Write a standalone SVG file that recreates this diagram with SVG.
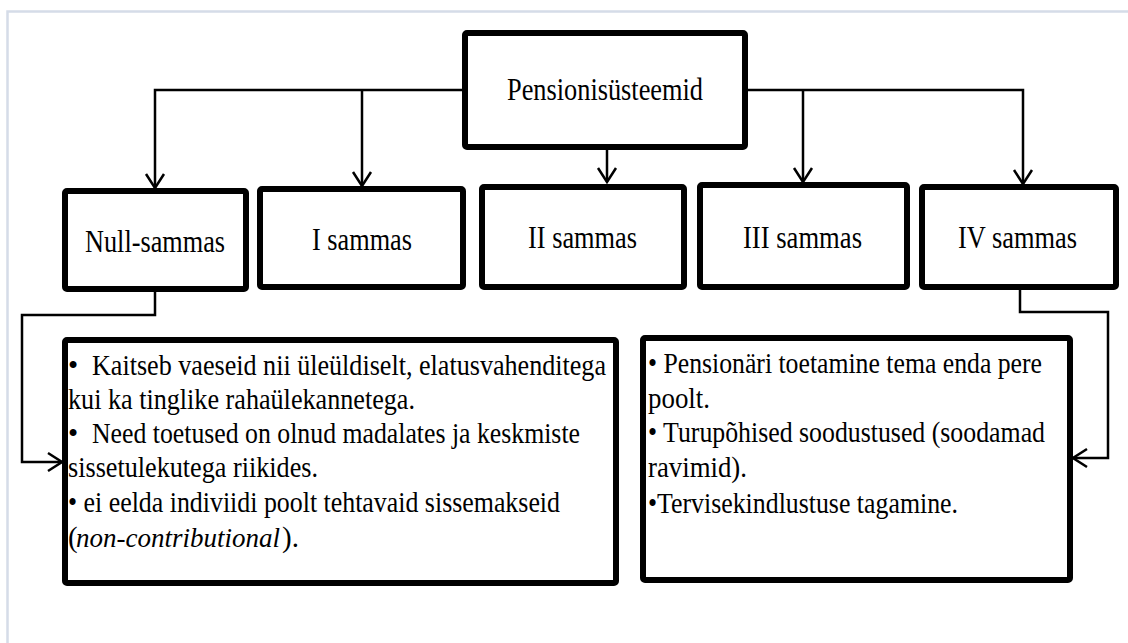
<svg xmlns="http://www.w3.org/2000/svg" width="1128" height="643" viewBox="0 0 1128 643">
<style>
.box{fill:#fff;stroke:#000;stroke-width:6;stroke-linejoin:round}
.conn{fill:none;stroke:#000;stroke-width:2.5}
text{font-family:Liberation Serif,Times New Roman,serif;fill:#000}
.lbl{font-size:31px}
.body{font-size:29px}
.it{font-style:italic;font-size:27px}
</style>
<defs>
<marker id="arr" viewBox="-16 -11 18 22" refX="0" refY="0" markerWidth="18" markerHeight="22" markerUnits="userSpaceOnUse" orient="auto">
<path d="M-14,-9 L0,0 L-14,9" fill="none" stroke="#000" stroke-width="2.5"/>
</marker>
</defs>
<rect width="1128" height="643" fill="#fff"/>
<path d="M7.5,643 V11.5 H1128" fill="none" stroke="#d5dce8" stroke-width="2.5"/>

<g id="connectors">
<path class="conn" d="M462,90 H155 V188" marker-end="url(#arr)"/>
<path class="conn" d="M362,90 V186" marker-end="url(#arr)"/>
<path class="conn" d="M748,90 H1023 V184" marker-end="url(#arr)"/>
<path class="conn" d="M803,90 V182" marker-end="url(#arr)"/>
<path class="conn" d="M607,150 V182" marker-end="url(#arr)"/>
<path class="conn" d="M155,292 V315 H22 V462 H62" marker-end="url(#arr)"/>
<path class="conn" d="M1020,290 V312 H1108 V458 H1073" marker-end="url(#arr)"/>
</g>

<g id="pensionisusteemid" font-family="Liberation Serif, serif">
<rect class="box" x="465" y="33" width="280" height="114" rx="2"/>
<text class="lbl" x="507" y="100" textLength="196" lengthAdjust="spacingAndGlyphs">Pensionisüsteemid</text>
</g>
<g id="null-sammas" font-family="Liberation Serif, serif">
<rect class="box" x="65" y="191" width="181" height="98" rx="2"/>
<text class="lbl" x="85" y="252" textLength="140" lengthAdjust="spacingAndGlyphs">Null-sammas</text>
</g>
<g id="i-sammas" font-family="Liberation Serif, serif">
<rect class="box" x="260" y="189" width="203" height="98" rx="2"/>
<text class="lbl" x="312" y="250" textLength="100" lengthAdjust="spacingAndGlyphs">I sammas</text>
</g>
<g id="ii-sammas" font-family="Liberation Serif, serif">
<rect class="box" x="482" y="187" width="202" height="100" rx="2"/>
<text class="lbl" x="528" y="248" textLength="109" lengthAdjust="spacingAndGlyphs">II sammas</text>
</g>
<g id="iii-sammas" font-family="Liberation Serif, serif">
<rect class="box" x="700" y="185" width="207" height="102" rx="2"/>
<text class="lbl" x="743" y="248" textLength="119" lengthAdjust="spacingAndGlyphs">III sammas</text>
</g>
<g id="iv-sammas" font-family="Liberation Serif, serif">
<rect class="box" x="922" y="187" width="194" height="100" rx="2"/>
<text class="lbl" x="958" y="248" textLength="119" lengthAdjust="spacingAndGlyphs">IV sammas</text>
</g>

<g id="null-kirjeldus" font-family="Liberation Serif, serif">
<rect class="box" x="65" y="340" width="551" height="243" rx="2"/>
<text class="body" x="68" y="375">•</text>
<text class="body" x="92" y="375" textLength="514" lengthAdjust="spacingAndGlyphs">Kaitseb vaeseid  nii üleüldiselt, elatusvahenditega</text>
<text class="body" x="68" y="409" textLength="347" lengthAdjust="spacingAndGlyphs">kui ka tinglike rahaülekannetega.</text>
<text class="body" x="68" y="443">•</text>
<text class="body" x="92" y="443" textLength="488" lengthAdjust="spacingAndGlyphs">Need toetused on olnud madalates ja keskmiste</text>
<text class="body" x="68" y="477" textLength="250" lengthAdjust="spacingAndGlyphs">sissetulekutega riikides.</text>
<text class="body" x="68" y="512" textLength="492" lengthAdjust="spacingAndGlyphs">• ei eelda indiviidi poolt tehtavaid sissemakseid</text>
<text class="body" x="68" y="547">(</text>
<text class="it" x="76" y="547">non-contributional</text>
<text class="body" x="282" y="547">).</text>
</g>

<g id="iv-kirjeldus" font-family="Liberation Serif, serif">
<rect class="box" x="643" y="338" width="427" height="242" rx="2"/>
<text class="body" x="648" y="373" textLength="394" lengthAdjust="spacingAndGlyphs">• Pensionäri toetamine tema enda pere</text>
<text class="body" x="648" y="408" textLength="62" lengthAdjust="spacingAndGlyphs">poolt.</text>
<text class="body" x="648" y="442" textLength="397" lengthAdjust="spacingAndGlyphs">• Turupõhised soodustused (soodamad</text>
<text class="body" x="648" y="477" textLength="99" lengthAdjust="spacingAndGlyphs">ravimid).</text>
<text class="body" x="648" y="513" textLength="310" lengthAdjust="spacingAndGlyphs">•Tervisekindlustuse tagamine.</text>
</g>
</svg>
